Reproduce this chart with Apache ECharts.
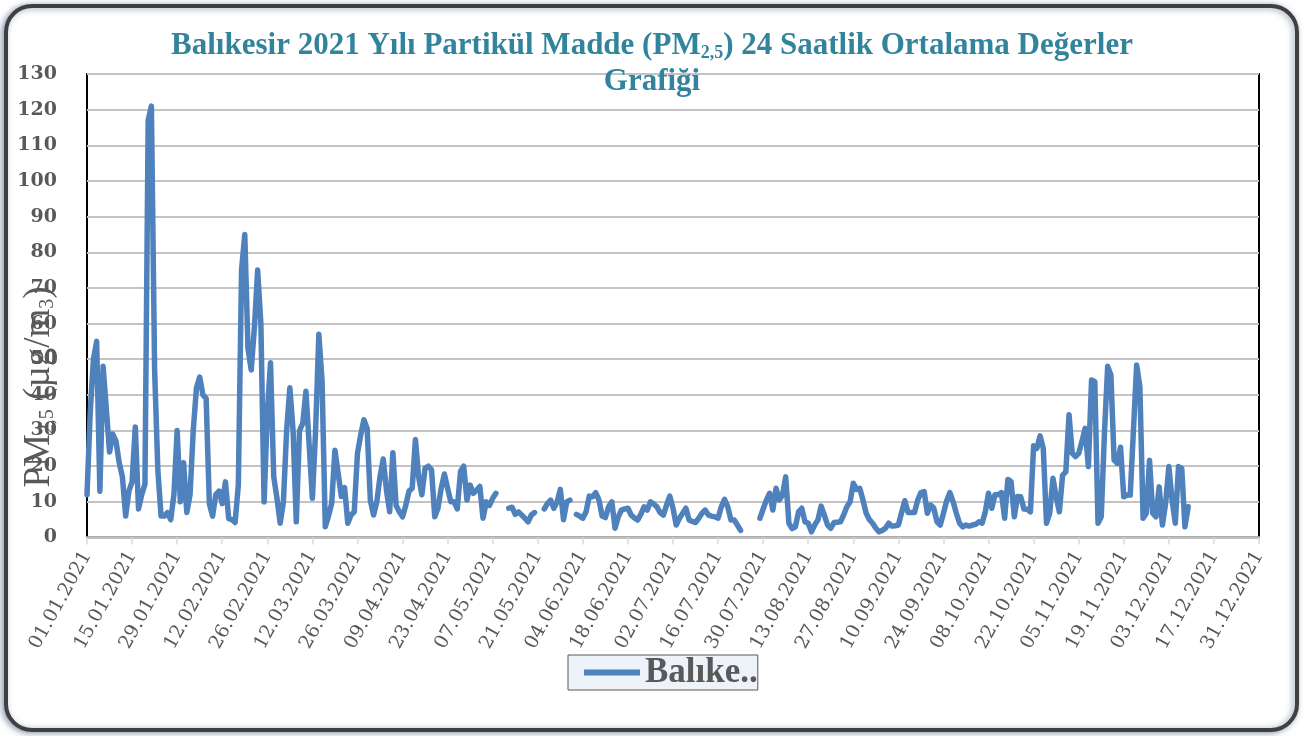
<!DOCTYPE html>
<html>
<head>
<meta charset="utf-8">
<script src="https://cdn.jsdelivr.net/npm/echarts@6/dist/echarts.min.js"></script>
<style>
html, body { margin: 0; padding: 0; background: #fff; }
#chartId { width: 1304px; height: 736px; }
</style>
</head>
<body>
<div id="chartId"></div>
<script>
// PM2.5 günlük ortalama değerleri (01.01.2021 - 31.12.2021), boş günler null
var pm25 = [
	12, 35, 50, 55, 13, 48, 36, 24, 29, 27,
	21, 17, 6, 13, 15.6, 31, 8, 12, 15, 117,
	121, 47, 19, 6, 6, 7, 5, 12, 30, 10,
	21, 7, 12, 30, 42, 45, 40, 39, 9.5, 6,
	12, 13, 9.5, 15.6, 5.3, 5, 4.2, 14.7, 75, 85,
	53, 47, 59, 75, 60, 10, 35, 49, 17, 11,
	4, 10, 30, 42, 30, 4.4, 30, 32, 41, 26,
	11, 30, 57, 44, 3, 6, 9.6, 24.5, 18, 11.5,
	14, 4, 6.3, 7.2, 23.6, 28.7, 33, 30.6, 10.5, 6.3,
	10, 17, 22, 13.3, 7.2, 23.8, 9, 7.2, 5.8, 9,
	13, 13.8, 27.5, 17, 12, 19.4, 20, 19, 5.8, 8.2,
	13.8, 17.8, 13.8, 10, 10, 8, 18.5, 20, 10.5, 14.7,
	12.4, 13.3, 14.3, 5.4, 10, 9, 11, 12.4, null, null,
	null, 8.2, 8.5, 6.5, 7.2, 6.3, 5.4, 4.4, 6.3, 7,
	null, null, 8, 9.5, 10.5, 8.2, 10, 13.5, 5, 10,
	10.5, null, 6.5, 6, 5.4, 7.2, 11.6, 11.4, 12.6, 10.5,
	6, 5.6, 8.6, 10, 2.6, 5.8, 7.7, 8, 8.2, 6.3,
	5.5, 4.9, 6.5, 8.6, 7.7, 10, 9.4, 8.6, 7, 6.3,
	9.1, 11.6, 8.2, 3.5, 5.4, 6.8, 8.2, 4.9, 4.5, 4.2,
	5.4, 6.8, 7.7, 6.3, 6, 5.8, 5.4, 8.6, 10.7, 8.6,
	4.9, 4.9, 3.5, 2, null, null, null, null, null, 5.4,
	8, 10.5, 12.4, 7.7, 13.8, 10.5, 11.9, 17, 4, 2.5,
	3, 7.2, 8.2, 4.4, 4, 1.6, 3.5, 4.9, 8.8, 6.3,
	3.5, 2.6, 4.2, 4.3, 4.4, 6.3, 8.6, 10, 15.2, 13.5,
	13.8, 10.5, 6.8, 5, 4, 2.6, 1.6, 2, 2.6, 4,
	3.2, 3.3, 3.5, 7, 10.3, 7, 7, 7, 10.5, 12.6,
	12.9, 6.8, 9.1, 8.2, 4.4, 3.5, 6.8, 10.3, 12.6, 10,
	6.8, 4, 3, 3.5, 3.2, 3.5, 3.7, 4.4, 4, 7.2,
	12.4, 8.2, 12, 12, 12.6, 5.4, 16.3, 15.7, 5.8, 11.5,
	11.4, 8, 7.9, 7.2, 25.7, 25, 28.5, 25, 4, 6.8,
	16.6, 11.4, 7.2, 17.5, 18.4, 34.4, 23.6, 22.7, 23.6, 26.9,
	30.6, 19.9, 44.2, 43.7, 4, 5.8, 29.2, 48, 45.6, 21.7,
	20.8, 25.3, 11.4, 11.9, 11.9, 30, 48.4, 42.3, 5.4, 6.8,
	21.7, 6.8, 5.8, 14.2, 3.5, 9.6, 19.9, 10.5, 4, 19.9,
	19.4, 3, 8.6, null, null, null, null, null, null, null,
	null, null, null, null, null, null, null, null, null, null,
	null, null, null, null, null
];
var yMin = 0;
var yMax = 130;
var yStep = 10;
var labelStep = 14; // x ekseninde 14 günde bir etiket
var seriesName = 'Balıkesir';

// tarih etiketleri: gg.aa.yyyy
var dateLabels = [];
var myDate = new Date(2021, 0, 1);
for (var i = 0; i < 365; i++) {
	var dd = myDate.getDate();
	var mm = myDate.getMonth() + 1;
	dateLabels.push((dd < 10 ? '0' + dd : dd) + '.' + (mm < 10 ? '0' + mm : mm) + '.' + myDate.getFullYear());
	myDate.setDate(dd + 1);
}

var myChart = echarts.init(document.getElementById('chartId'));
var option = {
	animation : false,
	backgroundColor : '#fff',
	title : {
		text : 'Balıkesir 2021 Yılı Partikül Madde (PM{sub|2,5}) 24 Saatlik Ortalama Değerler\nGrafiği',
		left : 'center',
		top : 23,
		textStyle : {
			fontFamily : 'Liberation Serif',
			fontSize : 31,
			fontWeight : 'bold',
			color : '#31849B',
			lineHeight : 36,
			rich : {
				sub : {
					fontFamily : 'Liberation Serif',
					fontSize : 18,
					fontWeight : 'bold',
					color : '#31849B',
					padding : [ 15, 0, 0, 0 ]
				}
			}
		}
	},
	legend : {
		left : 568,
		top : 655,
		backgroundColor : '#EEF2F9',
		borderColor : '#595959',
		borderWidth : 1,
		borderRadius : 0,
		padding : [ 0, 0, 0, 16 ],
		icon : 'rect',
		itemWidth : 56,
		itemHeight : 6,
		itemGap : 8,
		data : [ seriesName ],
		formatter : function(name) {
			return 'Balıke..';
		},
		textStyle : {
			fontFamily : 'Liberation Serif',
			fontSize : 35,
			fontWeight : 'bold',
			lineHeight : 26,
			color : '#595959'
		}
	},
	grid : {
		left : 87,
		right : 45,
		top : 74,
		bottom : 198.5,
		show : true,
		borderColor : '#000',
		borderWidth : 2,
		backgroundColor : '#fff'
	},
	xAxis : {
		type : 'category',
		boundaryGap : false,
		data : dateLabels,
		axisLine : {
			lineStyle : {
				color : '#BFBFBF',
				width : 2.5
			}
		},
		axisTick : {
			interval : labelStep - 1,
			length : 7,
			lineStyle : {
				color : '#D9D9D9',
				width : 1.5
			}
		},
		axisLabel : {
			interval : labelStep - 1,
			rotate : 61,
			margin : 15,
			fontFamily : 'DejaVu Serif',
			fontSize : 19,
			color : '#595959'
		},
		splitLine : {
			show : false
		}
	},
	yAxis : {
		type : 'value',
		min : yMin,
		max : yMax,
		interval : yStep,
		axisLine : {
			show : false
		},
		axisTick : {
			show : false
		},
		axisLabel : {
			margin : 30,
			fontFamily : 'DejaVu Serif',
			fontSize : 19,
			fontWeight : 'bold',
			color : '#595959'
		},
		splitLine : {
			lineStyle : {
				color : '#C3C3C3',
				width : 1.8
			}
		}
	},
	graphic : [ {
		type : 'rect',
		z : -10,
		shape : {
			x : 6,
			y : 6,
			width : 1291,
			height : 724,
			r : 26
		},
		style : {
			fill : '#fff',
			stroke : '#404040',
			lineWidth : 4,
			shadowColor : 'rgba(70,90,130,0.55)',
			shadowBlur : 6,
			shadowOffsetX : -2,
			shadowOffsetY : 1
		}
	}, {
		type : 'text',
		x : 39,
		y : 387,
		rotation : Math.PI / 2,
		z : 10,
		style : {
			text : 'PM{s|2,5} (µg/m{s|3})',
			align : 'center',
			verticalAlign : 'middle',
			textAlign : 'center',
			textVerticalAlign : 'middle',
			fontFamily : 'Liberation Serif',
			fontSize : 37,
			fill : '#595959',
			rich : {
				s : {
					fontFamily : 'Liberation Serif',
					fontSize : 20,
					fill : '#595959',
					padding : [ 18, 0, 0, 0 ]
				}
			}
		}
	} ],
	series : [ {
		name : seriesName,
		type : 'line',
		data : pm25,
		connectNulls : false,
		showSymbol : false,
		symbol : 'none',
		color : '#4F81BD',
		lineStyle : {
			color : '#4F81BD',
			width : 5.5,
			cap : 'round',
			join : 'round'
		}
	} ]
};
myChart.setOption(option);
</script>
</body>
</html>
